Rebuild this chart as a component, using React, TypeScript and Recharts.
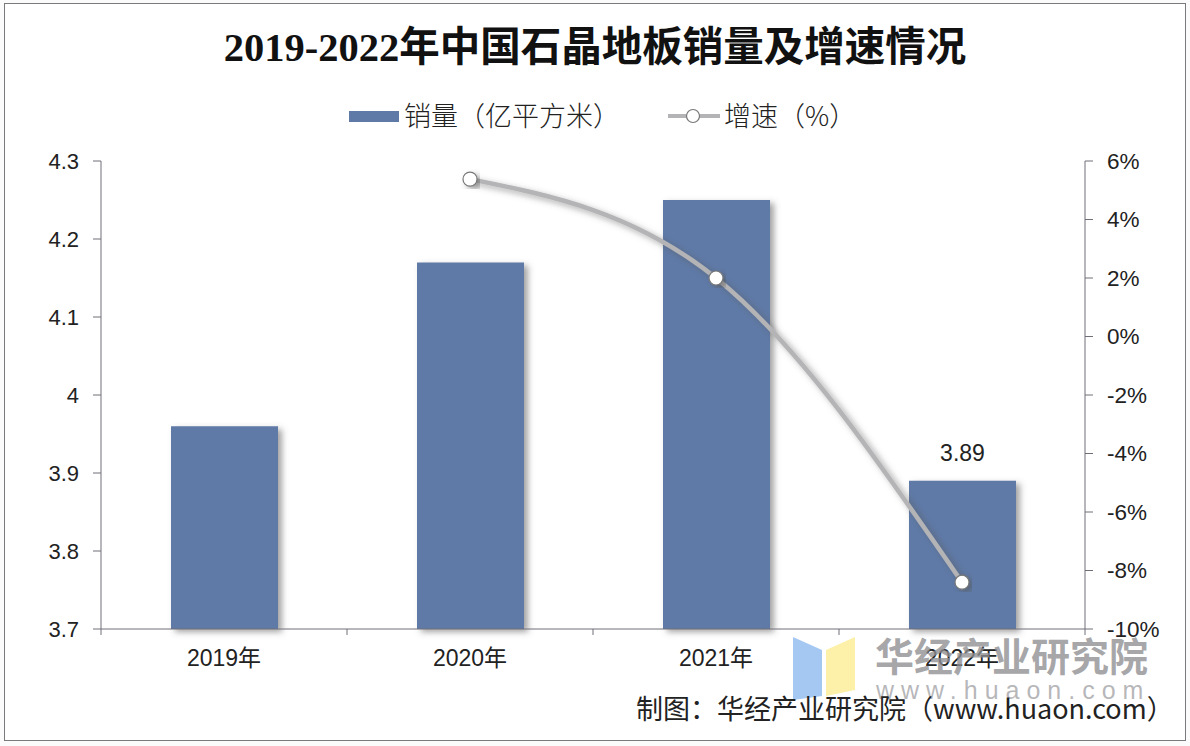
import React from 'react';
import { ComposedChart, Bar, Line, XAxis, YAxis, LabelList, Legend } from 'recharts';

const years = ['2019年', '2020年', '2021年', '2022年'];
const sales = [3.96, 4.17, 4.25, 3.89];
const salesLabels = [null, null, null, 3.89];
const growth = [null, 5.38, 2.0, -8.4];
const salesTicks = [3.7, 3.8, 3.9, 4, 4.1, 4.2, 4.3];
const growthTicks = [-10, -8, -6, -4, -2, 0, 2, 4, 6];

const chartData = years.map((year, i) => ({
  year,
  sales: sales[i],
  salesLabel: salesLabels[i],
  growth: growth[i],
}));

const SANS = '"Liberation Sans", "Noto Sans CJK SC", sans-serif';
const AXIS_COLOR = '#6f6f78';
const BAR_COLOR = '#5f7aa7';
const LINE_COLOR = '#b4b4b6';

// x axis ticks sit between the categories, so the label renderer draws them too
const YearTick = (props: any) => {
  const { x, y, payload, index } = props;
  const half = 123;
  return (
    <g>
      {index === 0 && <line x1={x - half} x2={x - half} y1={y - 8} y2={y - 2} stroke={AXIS_COLOR} />}
      <line x1={x + half} x2={x + half} y1={y - 8} y2={y - 2} stroke={AXIS_COLOR} />
      <text x={x} y={y + 29} textAnchor="middle" fontSize={23} fill="#222" fontFamily={SANS}>
        {payload.value}
      </text>
    </g>
  );
};

const LegendContent = () => (
  <div style={{ position: 'relative', height: 40, fontFamily: '"Noto Sans CJK SC", sans-serif', fontSize: 27, fontWeight: 300, color: '#222' }}>
    <svg width={1190} height={40} style={{ position: 'absolute', left: 0, top: 0 }}>
      <rect x={349} y={15} width={50} height={11} fill={BAR_COLOR} />
      <line x1={668} x2={720} y1={20} y2={20} stroke={LINE_COLOR} strokeWidth={4} />
      <circle cx={693} cy={20} r={6.5} fill="#fff" stroke="#777" strokeWidth={1.2} />
    </svg>
    <span style={{ position: 'absolute', left: 404, top: -1, whiteSpace: 'nowrap', lineHeight: '40px' }}>销量（亿平方米）</span>
    <span style={{ position: 'absolute', left: 724, top: -1, whiteSpace: 'nowrap', lineHeight: '40px' }}>增速（%）</span>
  </div>
);

const Watermark = () => (
  <svg width={1190} height={746} style={{ position: 'absolute', left: 0, top: 0, pointerEvents: 'none' }}>
    <polygon points="793,637 822,650 822,696 793,700" fill="#a5c8f2" />
    <polygon points="826,650 855,637 855,690 826,696" fill="#fdf0a8" />
    <text x={875} y={671} fontSize={39} fontWeight={700} fill="#8f8f93" fillOpacity={0.8} fontFamily='"Noto Sans CJK SC", sans-serif'>
      华经产业研究院
    </text>
    <text x={876} y={699} fontSize={25} fill="#a0a0a4" fillOpacity={0.75} letterSpacing={7} fontFamily={SANS}>
      www.huaon.com
    </text>
  </svg>
);

export default function App() {
  return (
    <div style={{ position: 'absolute', left: 0, top: 0, width: 1190, height: 746, background: '#fbfbfb', overflow: 'hidden' }}>
      <div style={{ position: 'absolute', left: 4, top: 3, width: 1180, height: 736, background: '#fff', border: '1.5px solid #7a7a7e' }} />
      <div style={{ position: 'absolute', left: 0, width: 1190, top: 20, textAlign: 'center', fontFamily: '"Liberation Serif", "Noto Sans CJK SC", serif', fontWeight: 700, fontSize: 40.5, lineHeight: '56px', color: '#111' }}>
        2019-2022年中国石晶地板销量及增速情况
      </div>
      <div style={{ position: 'absolute', left: 0, top: 0 }}>
        <ComposedChart width={1190} height={746} data={chartData} margin={{ top: 121, right: 0, bottom: 87, left: 0 }}>
          <defs>
            <filter id="softShadow" x="-20%" y="-20%" width="140%" height="140%">
              <feDropShadow dx={4} dy={3} stdDeviation={3} floodColor="#555" floodOpacity={0.55} />
            </filter>
          </defs>
          <Legend verticalAlign="top" height={40} wrapperStyle={{ top: 96, left: 0, width: 1190 }} content={<LegendContent />} />
          <XAxis dataKey="year" axisLine={{ stroke: AXIS_COLOR }} tickLine={false} tick={<YearTick />} interval={0} />
          <YAxis
            yAxisId="left"
            width={101}
            domain={[3.7, 4.3]}
            ticks={salesTicks}
            interval={0}
            tick={{ fontSize: 22, fill: '#222', fontFamily: SANS }}
            tickSize={8}
            tickMargin={14}
            axisLine={{ stroke: AXIS_COLOR }}
            tickLine={{ stroke: AXIS_COLOR }}
          />
          <YAxis
            yAxisId="right"
            orientation="right"
            width={105}
            domain={[-10, 6]}
            ticks={growthTicks}
            interval={0}
            tickFormatter={(v: number) => `${v}%`}
            tick={{ fontSize: 22.5, fill: '#222', fontFamily: SANS }}
            tickSize={8}
            tickMargin={14}
            axisLine={{ stroke: AXIS_COLOR }}
            tickLine={{ stroke: AXIS_COLOR }}
          />
          <Bar yAxisId="left" dataKey="sales" fill={BAR_COLOR} barSize={107} isAnimationActive={false} filter="url(#softShadow)">
            <LabelList dataKey="salesLabel" position="top" offset={20} fontSize={23} fill="#222" fontFamily={SANS} />
          </Bar>
          <Line
            yAxisId="right"
            dataKey="growth"
            type="monotone"
            stroke={LINE_COLOR}
            strokeWidth={4.5}
            dot={{ r: 7, fill: '#fff', stroke: '#777', strokeWidth: 1.2 }}
            activeDot={false}
            isAnimationActive={false}
            filter="url(#softShadow)"
          />
        </ComposedChart>
      </div>
      <Watermark />
      <div style={{ position: 'absolute', left: 636, top: 688, whiteSpace: 'nowrap', fontFamily: '"Noto Sans CJK SC", sans-serif', fontSize: 27, lineHeight: '40px', color: '#222' }}>
        制图：华经产业研究院（www.huaon.com）
      </div>
    </div>
  );
}
